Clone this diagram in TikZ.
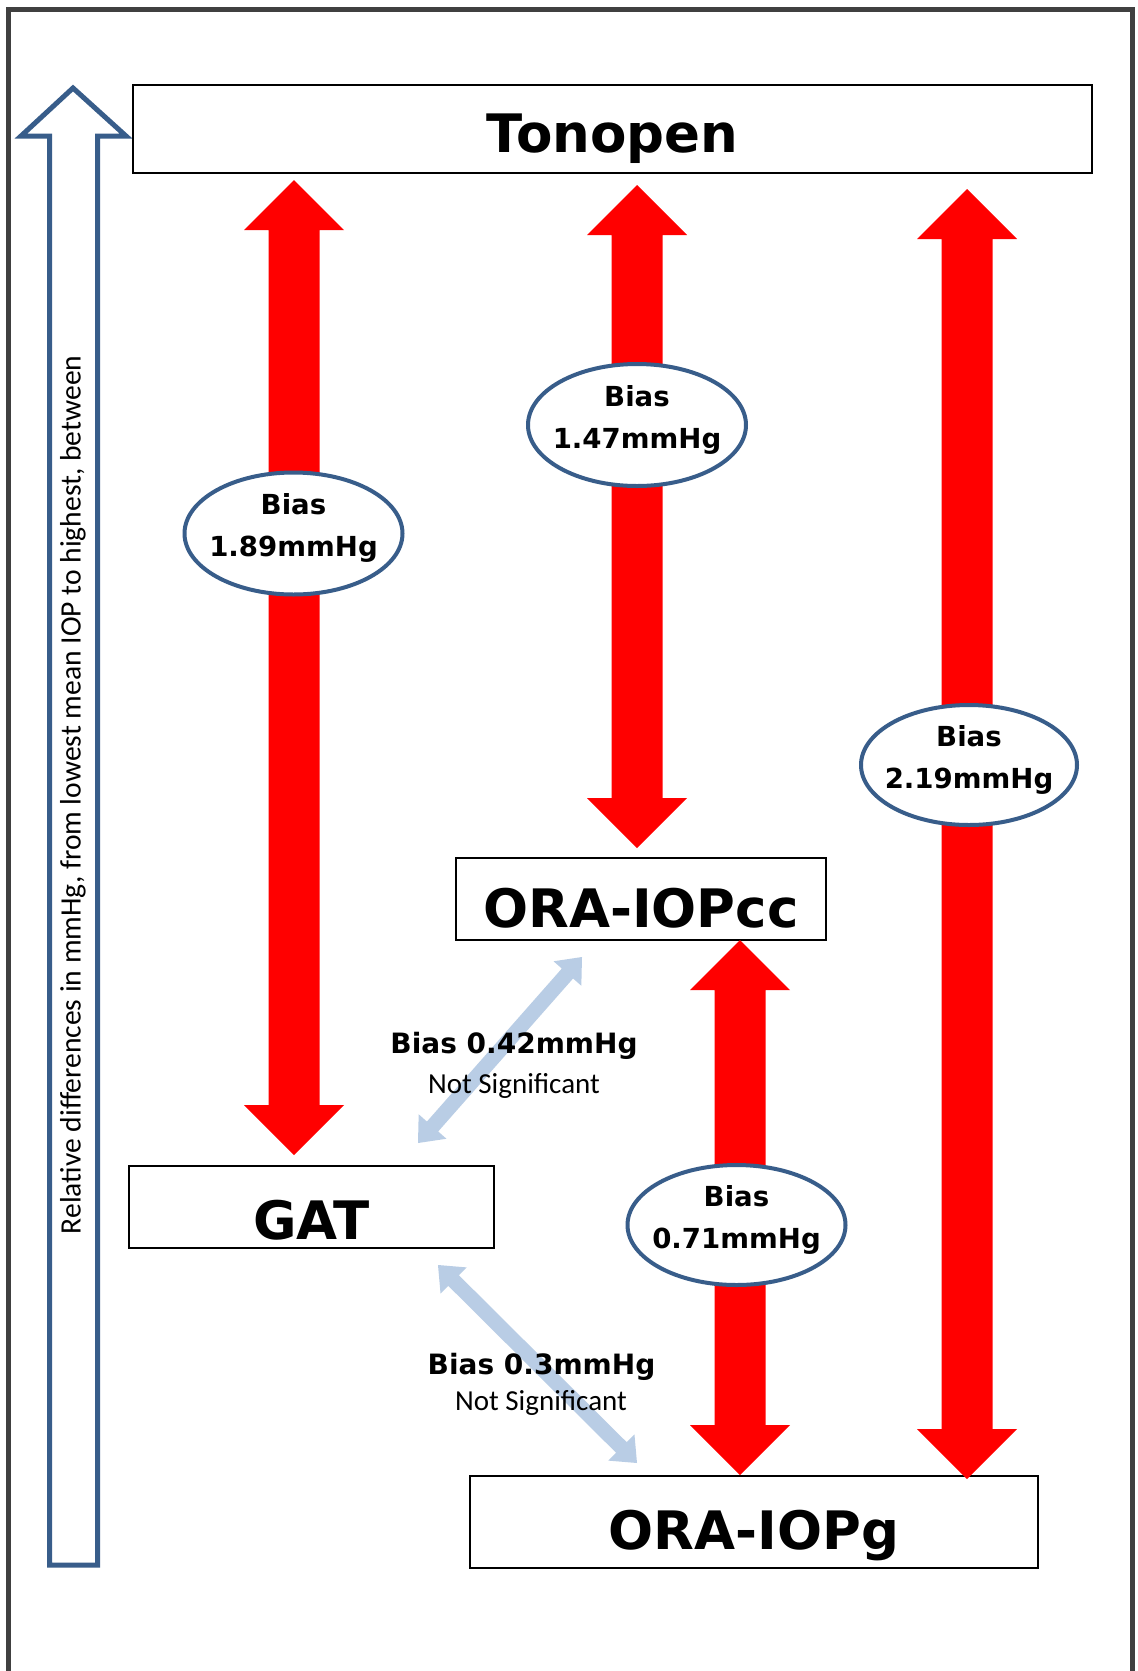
\documentclass[tikz,border=0pt]{standalone}
\usepackage{fontspec}
\setmainfont{Carlito}
\newfontfamily\heavy{DejaVu Sans}
\usetikzlibrary{shapes.geometric,calc}
\definecolor{frameg}{HTML}{404040}
\definecolor{axisblue}{HTML}{385D8A}
\definecolor{paleblue}{HTML}{B9CDE5}
\definecolor{arrred}{HTML}{FF0000}
% double block arrow between two named coordinates
% #1,#2 tips; #3 half shaft; #4 half head; #5 head length; #6 colour
\newcommand\dblarrow[6]{%
\fill[#6] (#1)
 -- ($($(#1)!#5!(#2)$)!#4!90:(#2)$)
 -- ($($(#1)!#5!(#2)$)!#3!90:(#2)$)
 -- ($($(#2)!#5!(#1)$)!#3!-90:(#1)$)
 -- ($($(#2)!#5!(#1)$)!#4!-90:(#1)$)
 -- (#2)
 -- ($($(#2)!#5!(#1)$)!#4!90:(#1)$)
 -- ($($(#2)!#5!(#1)$)!#3!90:(#1)$)
 -- ($($(#1)!#5!(#2)$)!#3!-90:(#2)$)
 -- ($($(#1)!#5!(#2)$)!#4!-90:(#2)$)
 -- cycle;}
\tikzset{
  labelbox/.style={draw=black, line width=0.7pt, fill=white, inner sep=0pt, outer sep=0pt,
    font=\heavy\bfseries\fontsize{26.5}{30}\selectfont, text depth=0pt},
  biasell/.style={ellipse, draw=axisblue, line width=2pt, fill=white, inner sep=0pt,
    minimum width=109pt, minimum height=61pt},
  biastext/.style={align=center, inner sep=0pt, yshift=2.7pt,
    font=\heavy\bfseries\fontsize{13.8}{21}\selectfont},
  nsbold/.style={anchor=base, inner sep=0pt, font=\heavy\bfseries\fontsize{14}{16}\selectfont},
  nsreg/.style={anchor=base, inner sep=0pt, font=\fontsize{14.5}{16}\selectfont},
}
\begin{document}
\begin{tikzpicture}[x=0.5pt, y=-0.5pt]
\useasboundingbox (0,0) rectangle (1138,1671);
\fill[white] (0,0) rectangle (1138,1671);
% outer frame
\draw[frameg, line width=2.5pt] (8.5,1680) -- (8.5,9.5) -- (1132,9.5) -- (1132,1680);
% vertical axis arrow
\draw[axisblue, line width=2.5pt, line join=miter]
  (49.5,1565) -- (49.5,136) -- (21,136) -- (73,88) -- (126,136) -- (97.5,136) -- (97.5,1565) -- cycle;
\node[rotate=90, inner sep=0pt, font=\fontsize{14.8}{17}\selectfont] (axistext) at (73,795)
  {Relative differences in mmHg, from lowest mean IOP to highest, between};
% boxes
\node[labelbox, minimum width=479.5pt, minimum height=44pt, text height=23pt] (tono) at (612.5,129) {Tonopen};
\node[labelbox, minimum width=185pt, minimum height=41pt, text height=28pt] (cc) at (641,899) {ORA-IOPcc};
\node[labelbox, minimum width=182.5pt, minimum height=41pt, text height=32pt] (gat) at (311.5,1207) {GAT};
\node[labelbox, minimum width=284pt, minimum height=46pt, text height=27pt] (g) at (754,1522) {ORA-IOPg};
% red arrow tips
\coordinate (r1t) at (294,180);  \coordinate (r1b) at (294,1155);
\coordinate (r2t) at (637,185);  \coordinate (r2b) at (637,848);
\coordinate (r3t) at (967,189);  \coordinate (r3b) at (967,1479);
\coordinate (r4t) at (740,940);  \coordinate (r4b) at (740,1475);
\dblarrow{r1t}{r1b}{12.75pt}{25pt}{25pt}{arrred}
\dblarrow{r2t}{r2b}{12.75pt}{25pt}{25pt}{arrred}
\dblarrow{r3t}{r3b}{12.75pt}{25pt}{25pt}{arrred}
\dblarrow{r4t}{r4b}{12.75pt}{25pt}{25pt}{arrred}
% pale arrows
\coordinate (b1a) at (418,1143); \coordinate (b1b) at (582,957);
\coordinate (b2a) at (438,1265); \coordinate (b2b) at (637,1463);
\dblarrow{b1a}{b1b}{3.75pt}{9.25pt}{11pt}{paleblue}
\dblarrow{b2a}{b2b}{3.75pt}{9.25pt}{11pt}{paleblue}
% ellipses
\node[biasell, label={[biastext, name=t1]center:Bias\\1.89mmHg}] (e1) at (293.5,533.5) {};
\node[biasell, label={[biastext, name=t2]center:Bias\\1.47mmHg}] (e2) at (637,425) {};
\node[biasell, minimum width=108pt, minimum height=60pt, label={[biastext, name=t3]center:Bias\\2.19mmHg}] (e3) at (969,765) {};
\node[biasell, minimum height=60pt, label={[biastext, name=t4]center:Bias\\0.71mmHg}] (e4) at (736.5,1225) {};
% non-significant labels
\node[nsbold] (n1a) at (514,1053) {Bias 0.42mmHg};
\node[nsreg] (n1b) at (514,1093) {Not Significant};
\node[nsbold] (n2a) at (541.5,1374) {Bias 0.3mmHg};
\node[nsreg] (n2b) at (541,1410) {Not Significant};
\end{tikzpicture}
\end{document}
